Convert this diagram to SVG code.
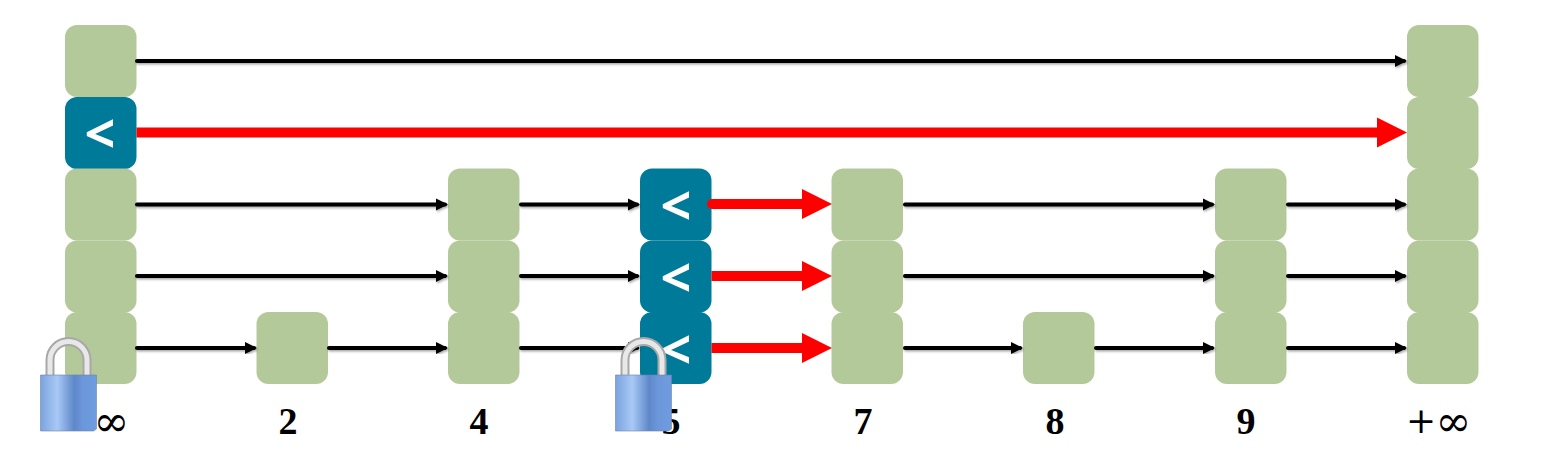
<svg xmlns="http://www.w3.org/2000/svg" width="1542" height="470" viewBox="0 0 1542 470">
<style>
.g{fill:#b4c99a}
.b{fill:#007a99}
.lt{fill:#fff;font:bold 54px "Open Sans","DejaVu Sans",sans-serif;text-anchor:middle}
.k{stroke:#000;stroke-width:4;fill:none;stroke-linecap:round;marker-end:url(#ka)}
.r{stroke:#f00;fill:none;stroke-width:10}
.l{font:bold 38px "Liberation Serif","DejaVu Serif",serif;text-anchor:middle;fill:#000}
.n{font:36px "DejaVu Serif","Liberation Serif",serif;text-anchor:middle;fill:#000}
.i{font-size:43px}
</style>
<defs>
<filter id="sh" x="-2%" y="-2%" width="104%" height="104%"><feDropShadow dx="1" dy="1.500" stdDeviation="1" flood-color="#000" flood-opacity=".35"/></filter>
<marker id="ka" markerUnits="userSpaceOnUse" markerWidth="13" markerHeight="13" refX="9" refY="6.500" orient="auto"><path d="M0 .5L12 6.500L0 12.500z" fill="#000"/></marker>
<linearGradient id="body" x1="0" x2="1" y1="0" y2="0"><stop offset="0" stop-color="#7aa3df"/><stop offset=".3" stop-color="#a9c9f5"/><stop offset=".6" stop-color="#5f88c9"/><stop offset=".75" stop-color="#6b96da"/><stop offset="1" stop-color="#6f9ce0"/></linearGradient>
<g id="lock">
<path d="M9.500 42V23a18.500 18.500 0 0 1 37 0V42" fill="none" stroke="#a8a8a8" stroke-width="9"/>
<path d="M9.500 42V23a18.500 18.500 0 0 1 37 0V42" fill="none" stroke="#e8e8e8" stroke-width="5"/>
<path d="M0 38H56V92L53 94H0z" fill="url(#body)" stroke="#6c84a8" stroke-width=".6"/>
</g>
<path id="ra" d="M0 0L-30 -15V15z" fill="#f00"/>
</defs>

<g id="n-inf-5"><rect class="g" x="65" y="25" width="71.500" height="72" rx="12"/></g>
<g id="n-inf-4"><rect class="b" x="65" y="97" width="71.500" height="72" rx="12"/><text class="lt" x="100" y="153">&lt;</text></g>
<g id="n-inf-3"><rect class="g" x="65" y="168.500" width="71.500" height="72" rx="12"/></g>
<g id="n-inf-2"><rect class="g" x="65" y="240.500" width="71.500" height="72" rx="12"/></g>
<g id="n-inf-1"><rect class="g" x="65" y="312" width="71.500" height="72" rx="12"/></g>
<g id="n2-1"><rect class="g" x="256.500" y="312" width="71.500" height="72" rx="12"/></g>
<g id="n4-3"><rect class="g" x="448" y="168.500" width="71.500" height="72" rx="12"/></g>
<g id="n4-2"><rect class="g" x="448" y="240.500" width="71.500" height="72" rx="12"/></g>
<g id="n4-1"><rect class="g" x="448" y="312" width="71.500" height="72" rx="12"/></g>
<g id="n5-3"><rect class="b" x="640" y="168.500" width="71.500" height="72" rx="12"/><text class="lt" x="676" y="225">&lt;</text></g>
<g id="n5-2"><rect class="b" x="640" y="240.500" width="71.500" height="72" rx="12"/><text class="lt" x="676" y="297">&lt;</text></g>
<g id="n5-1"><rect class="b" x="640" y="312" width="71.500" height="72" rx="12"/><text class="lt" x="676" y="369">&lt;</text></g>
<g id="n7-3"><rect class="g" x="831.500" y="168.500" width="71.500" height="72" rx="12"/></g>
<g id="n7-2"><rect class="g" x="831.500" y="240.500" width="71.500" height="72" rx="12"/></g>
<g id="n7-1"><rect class="g" x="831.500" y="312" width="71.500" height="72" rx="12"/></g>
<g id="n8-1"><rect class="g" x="1023" y="312" width="71.500" height="72" rx="12"/></g>
<g id="n9-3"><rect class="g" x="1215" y="168.500" width="71.500" height="72" rx="12"/></g>
<g id="n9-2"><rect class="g" x="1215" y="240.500" width="71.500" height="72" rx="12"/></g>
<g id="n9-1"><rect class="g" x="1215" y="312" width="71.500" height="72" rx="12"/></g>
<g id="p-5"><rect class="g" x="1407" y="25" width="71.500" height="72" rx="12"/></g>
<g id="p-4"><rect class="g" x="1407" y="97" width="71.500" height="72" rx="12"/></g>
<g id="p-3"><rect class="g" x="1407" y="168.500" width="71.500" height="72" rx="12"/></g>
<g id="p-2"><rect class="g" x="1407" y="240.500" width="71.500" height="72" rx="12"/></g>
<g id="p-1"><rect class="g" x="1407" y="312" width="71.500" height="72" rx="12"/></g>

<g id="connectors" filter="url(#sh)">
<path class="k" d="M137 61H1404"/>
<path class="k" d="M137 204.500H445"/><path class="k" d="M521 204.500H637"/><path class="k" d="M905 204.500H1212"/><path class="k" d="M1288 204.500H1404"/>
<path class="k" d="M137 276H445"/><path class="k" d="M521 276H637"/><path class="k" d="M905 276H1212"/><path class="k" d="M1288 276H1404"/>
<path class="k" d="M137 348H254"/><path class="k" d="M329 348H445"/><path class="k" d="M521 348H637"/><path class="k" d="M905 348H1020"/><path class="k" d="M1096 348H1212"/><path class="k" d="M1288 348H1404"/>
</g>

<g id="red-connectors">
<path class="r" d="M136.500 132.500H1380"/><use href="#ra" x="1407" y="132.500"/>
<path class="r" d="M712 204H805" stroke-linecap="round"/><use href="#ra" x="832" y="204"/>
<path class="r" d="M711.500 276H805"/><use href="#ra" x="832" y="276"/>
<path class="r" d="M711.500 348H805"/><use href="#ra" x="832" y="348"/>
</g>

<g id="labels">
<text class="n" y="433"><tspan x="74">−</tspan><tspan class="i" x="111.500" dy="3">∞</tspan></text>
<text class="l" x="288" y="434">2</text>
<text class="l" x="479" y="434">4</text>
<text class="l" x="671" y="434">5</text>
<text class="l" x="863" y="434">7</text>
<text class="l" x="1055" y="434">8</text>
<text class="l" x="1246" y="434">9</text>
<text class="n" y="433"><tspan x="1421">+</tspan><tspan class="i" x="1453.500" dy="3">∞</tspan></text>
</g>
<g id="lock-1"><use href="#lock" x="40.500" y="337"/></g>
<g id="lock-2"><use href="#lock" x="615.500" y="337"/></g>
</svg>
